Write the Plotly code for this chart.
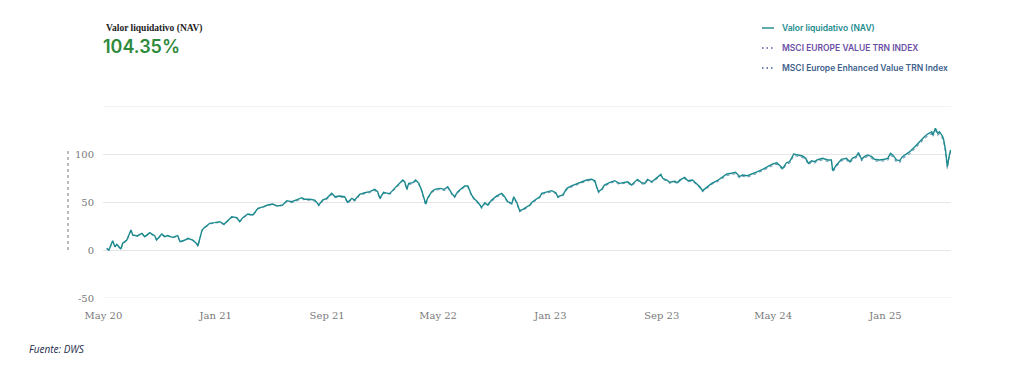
import plotly.graph_objects as go

dates = [
    "2020-05-08","2020-05-13","2020-05-21","2020-05-26","2020-05-30","2020-06-08","2020-06-12","2020-06-21","2020-06-30",
    "2020-07-04","2020-07-13","2020-07-24","2020-07-30","2020-08-10","2020-08-21","2020-08-25","2020-09-05","2020-09-12",
    "2020-09-18","2020-09-29","2020-10-10","2020-10-15","2020-10-26","2020-11-01","2020-11-12","2020-11-21","2020-11-23",
    "2020-12-02","2020-12-08","2020-12-19","2020-12-30",
    "2021-01-10","2021-01-19","2021-01-25","2021-02-05","2021-02-16","2021-02-22","2021-03-01","2021-03-12","2021-03-23",
    "2021-04-03","2021-04-14","2021-04-24","2021-05-05","2021-05-16","2021-05-27",
    "2021-06-05","2021-06-16","2021-06-27","2021-07-08","2021-07-14","2021-07-25","2021-08-05","2021-08-14","2021-08-22",
    "2021-08-31","2021-09-11","2021-09-18","2021-09-28","2021-10-09","2021-10-16","2021-10-25","2021-10-31","2021-11-11",
    "2021-11-22","2021-12-03","2021-12-14","2021-12-20","2021-12-25",
    "2022-01-02","2022-01-11","2022-01-16","2022-01-26","2022-02-02","2022-02-13","2022-02-17","2022-02-22","2022-02-26",
    "2022-03-07","2022-03-13","2022-03-20","2022-03-26","2022-03-31","2022-04-04","2022-04-08","2022-04-17","2022-04-24",
    "2022-05-05","2022-05-15","2022-05-22","2022-05-31","2022-06-06","2022-06-13","2022-06-22","2022-06-28","2022-07-05",
    "2022-07-13","2022-07-20","2022-07-26","2022-08-04","2022-08-11","2022-08-17","2022-08-26","2022-09-06","2022-09-17",
    "2022-09-23","2022-09-30","2022-10-09","2022-10-13","2022-10-20","2022-10-26","2022-11-02","2022-11-10","2022-11-17",
    "2022-11-23","2022-12-02","2022-12-09","2022-12-13","2022-12-24",
    "2023-01-04","2023-01-13","2023-01-17","2023-01-28","2023-02-06","2023-02-16","2023-02-27","2023-03-10","2023-03-21",
    "2023-04-01","2023-04-08","2023-04-12","2023-04-16","2023-04-23","2023-04-29","2023-05-10","2023-05-21","2023-06-01",
    "2023-06-12","2023-06-19","2023-06-27","2023-07-04","2023-07-10","2023-07-19","2023-07-26","2023-08-01","2023-08-10",
    "2023-08-17","2023-08-23","2023-08-30","2023-09-03","2023-09-12","2023-09-18","2023-09-29","2023-10-06","2023-10-10",
    "2023-10-21","2023-10-28","2023-11-07","2023-11-16","2023-11-23","2023-11-29","2023-12-08","2023-12-19","2023-12-30",
    "2024-01-10","2024-01-21","2024-01-31","2024-02-09","2024-02-18","2024-02-24","2024-03-06","2024-03-17","2024-03-28",
    "2024-04-08","2024-04-19","2024-04-30","2024-05-09","2024-05-15","2024-05-22","2024-05-30","2024-06-06","2024-06-15",
    "2024-06-23","2024-07-04","2024-07-11","2024-07-17","2024-07-24","2024-07-30","2024-08-06","2024-08-17","2024-08-28",
    "2024-09-05","2024-09-08","2024-09-16","2024-09-27","2024-10-08","2024-10-15","2024-10-21","2024-10-30","2024-11-03",
    "2024-11-10","2024-11-16","2024-11-23","2024-12-02","2024-12-08","2024-12-19","2024-12-30",
    "2025-01-06","2025-01-12","2025-01-17","2025-01-25","2025-02-01","2025-02-07","2025-02-16","2025-02-23","2025-03-06",
    "2025-03-16","2025-03-27","2025-04-03","2025-04-12","2025-04-14","2025-04-20","2025-04-25","2025-04-29","2025-05-06",
    "2025-05-08","2025-05-12","2025-05-14","2025-05-16","2025-05-19","2025-05-23",
]

nav = [
    1.7, 0, 9.7, 3.5, 6, 1, 7, 10.4, 20.8,
    15.6, 14.6, 17.4, 13.9, 18, 14.6, 10.4, 16.7, 13.9,
    15, 13.2, 15, 8.7, 10.4, 12.2, 10.4, 6.3, 4.2,
    20.8, 23.6, 27.8, 28.5,
    29.5, 26.7, 29.5, 34.7, 33.7, 29.5, 33.7, 37.5, 36.5,
    43.4, 45, 46.9, 47.9, 45.8, 46.9,
    51.4, 50.3, 52, 54.5, 52.8, 52.8, 52, 46.9, 52,
    53.8, 59, 55.5, 56.3, 55.5, 49.7, 53.8, 52, 58,
    59.7, 60.8, 63.2, 60.8, 53.8,
    60.1, 59, 59, 64.2, 67.7, 72.9, 71.1, 63.5, 69.4,
    70.1, 72.9, 69.4, 62.5, 55.5, 47.9, 53.8, 60.8, 63.2,
    64.2, 63.2, 65.9, 59, 55.5, 60.8, 64.2, 66.7, 66.7,
    57.3, 52.8, 50.3, 44.5, 49.3, 46.9, 52, 56.3, 59,
    55.5, 50.3, 48.6, 55.5, 49.3, 40.9, 42.4, 44.5, 46.9,
    50.3, 53.5, 55.5, 59, 60.8,
    61.8, 59.7, 55.5, 57.3, 64.2, 66.7, 68.8, 70.5, 72.9,
    73.6, 72.2, 65.9, 60.8, 63.2, 67.7, 70.1, 72.2, 69.4,
    70.1, 71.1, 67.7, 71.1, 73.6, 70.1, 69.4, 73.6, 71.1,
    73.6, 76.4, 78.8, 74.7, 72.9, 70.6, 71.6, 70.1, 72.9,
    75.7, 72.2, 72.9, 68.8, 65.9, 61.8, 65.3, 69.4, 71.9,
    75.7, 79.2, 79.9, 80.9, 76.4, 78.1, 77.4, 79.2, 81.6,
    84.1, 86.8, 89.6, 90.9, 88.5, 85.1, 90.9, 92, 100,
    99, 97.9, 95.5, 90.3, 93, 92, 94, 95.5, 93.8,
    93.8, 82.6, 88.5, 94.5, 95.5, 92, 95.5, 97.9, 101.4,
    94.5, 97.2, 99, 97.2, 94.5, 93.8, 94.5,
    95.5, 100.7, 99, 93.8, 93, 97.2, 100, 102.4, 107.6,
    112.8, 118, 120.8, 123.2, 119.8, 126.7, 121.5, 123.2, 118,
    114.6, 104.2, 90.3, 86.8, 95.5, 104.35,
]

msci_enhanced = [
    1.2, -0.5, 9.2, 3.0, 5.5, 0.5, 6.5, 9.9, 20.3,
    15.1, 14.1, 16.9, 13.4, 17.5, 14.1, 9.9, 16.2, 13.4,
    14.5, 12.7, 14.5, 8.2, 9.9, 11.7, 9.9, 5.8, 3.7,
    20.3, 23.1, 27.3, 28.0,
    29.0, 26.2, 29.0, 34.2, 33.2, 29.0, 33.2, 37.0, 36.0,
    42.9, 44.5, 46.4, 47.4, 45.3, 46.4,
    50.4, 49.3, 51, 53.5, 51.8, 51.8, 51, 45.9, 51,
    52.8, 58, 54.5, 55.3, 54.5, 48.7, 52.8, 51, 57,
    58.7, 59.8, 62.2, 59.8, 52.8,
    59.1, 58, 58, 63.2, 66.7, 71.9, 70.1, 62.5, 68.4,
    69.1, 71.9, 68.4, 61.5, 54.5, 46.9, 52.8, 59.8, 62.2,
    63.2, 62.2, 64.9, 58, 54.5, 59.8, 63.2, 65.7, 65.7,
    56.3, 51.8, 49.3, 43.5, 48.3, 45.9, 51, 55.3, 58,
    54.5, 49.3, 47.6, 54.5, 48.3, 39.9, 41.4, 43.5, 45.9,
    49.3, 52.5, 54.5, 58, 59.8,
    60.8, 58.7, 54.5, 56.3, 63.2, 65.7, 67.8, 69.5, 71.9,
    72.6, 71.2, 64.9, 59.8, 62.2, 66.7, 69.1, 71.2, 68.4,
    69.1, 70.1, 66.7, 70.1, 72.6, 69.1, 68.4, 72.6, 70.1,
    72.6, 75.4, 77.8, 73.7, 71.9, 69.6, 70.6, 69.1, 71.9,
    74.7, 71.2, 71.9, 67.8, 64.9, 60.8, 64.3, 68.4, 70.9,
    74.2, 77.7, 78.4, 79.4, 74.9, 76.6, 75.9, 77.7, 80.1,
    82.6, 85.3, 88.1, 89.4, 87.0, 83.6, 89.4, 90.5, 98.5,
    97.5, 96.4, 94.0, 88.8, 91.5, 90.5, 92.5, 94.0, 92.3,
    92.3, 81.1, 87.0, 93.0, 94.0, 90.5, 94.0, 96.4, 99.9,
    93.0, 95.7, 97.5, 95.7, 93.0, 92.3, 93.0,
    93.5, 98.7, 97, 91.8, 91, 95.2, 98, 100.4, 105.6,
    110.8, 116, 118.8, 121.2, 117.8, 124.7, 119.5, 121.2, 116,
    112.6, 102.2, 88.3, 84.8, 93.5, 102.35,
]

# MSCI EUROPE VALUE TRN INDEX: listed in the legend, no visible line in the chart
msci_value_dates = [None]
msci_value = [None]

series_names = [
    "Valor liquidativo (NAV)",
    "MSCI EUROPE VALUE TRN INDEX",
    "MSCI Europe Enhanced Value TRN Index",
]

assert len(dates) == len(nav) == len(msci_enhanced), (len(dates), len(nav), len(msci_enhanced))

y_range = [-50, 150]
y_tickvals = [-50, 0, 50, 100, 150]
y_ticktext = ["-50", "0", "50", "100", ""]
x_range = ["2020-04-30", "2025-05-24"]

NAV_COLOR = "#1b8a8e"
VALUE_COLOR = "#6b4fa6"
ENH_TEXT = "#3e5f8c"
ENH_LINE = "#6f9ab5"
GRID = "#e6e6e6"

fig = go.Figure()
fig.add_trace(go.Scatter(
    x=msci_value_dates, y=msci_value, mode="lines", name=series_names[1], showlegend=False,
    line=dict(color=VALUE_COLOR, width=1.3, dash="dot"),
))
fig.add_trace(go.Scatter(
    x=dates, y=msci_enhanced, mode="lines", name=series_names[2], showlegend=False,
    line=dict(color=ENH_LINE, width=1.1, dash="dot"),
))
fig.add_trace(go.Scatter(
    x=dates, y=nav, mode="lines", name=series_names[0], showlegend=False,
    line=dict(color=NAV_COLOR, width=1.4),
))

# page body has an 8px margin: figure origin sits at (8, 8) in the window
OFF = 8
FW, FH = 1013 - OFF, 366 - OFF
L, T, PW, PH = 103 - OFF, 106 - OFF, 848, 192


def px(xp):
    return (xp - OFF - L) / PW


def py(yp):
    return (T + PH - (yp - OFF)) / PH


legend_items = [
    (series_names[0], NAV_COLOR, NAV_COLOR, "solid", 28),
    (series_names[1], VALUE_COLOR, VALUE_COLOR, "1.5px,3px", 48),
    (series_names[2], ENH_TEXT, ENH_TEXT, "1.5px,3px", 68),
]
shapes = []
annotations = []
for name, tcol, lcol, dash, yrow in legend_items:
    shapes.append(dict(type="line", xref="paper", yref="paper",
                       x0=px(762), x1=px(774), y0=py(yrow), y1=py(yrow),
                       line=dict(color=lcol, width=1.4 if dash == "solid" else 1.6, dash=dash)))
    annotations.append(dict(text=name, xref="paper", yref="paper", x=px(780), y=py(yrow),
                            xanchor="left", yanchor="middle", showarrow=False,
                            font=dict(family="Inter", size=8.5, weight=600, color=tcol)))

annotations += [
    dict(text="<b>Valor liquidativo (NAV)</b>", xref="paper", yref="paper",
         x=px(104), y=py(28), xanchor="left", yanchor="middle", showarrow=False,
         font=dict(family="Liberation Serif", size=9.5, color="#222222")),
    dict(text="104.35%", xref="paper", yref="paper",
         x=px(101), y=py(47), xanchor="left", yanchor="middle", showarrow=False,
         font=dict(family="Inter", size=18, weight=600, color="#2e8a3c")),
    dict(text="Fuente: DWS", xref="paper", yref="paper",
         x=px(27), y=py(349), xanchor="left", yanchor="middle", showarrow=False,
         font=dict(family="Open Sans", size=10, style="italic", color="#1c2b4a")),
]
# dotted marker left of the y axis
shapes.append(dict(type="line", xref="paper", yref="paper", x0=px(68), x1=px(68), y0=py(250), y1=py(148),
                   line=dict(color="#7a7a7a", width=1, dash="dot")))
# gridlines that fall on the plot edges (plotly clips them)
for yv in (y_range[0], y_range[1]):
    shapes.append(dict(type="line", xref="paper", yref="y", x0=0, x1=1, y0=yv, y1=yv,
                       layer="below", line=dict(color=GRID, width=1)))

fig.update_layout(
    width=FW, height=FH,
    margin=dict(l=L, r=FW - L - PW, t=T, b=FH - T - PH, autoexpand=False),
    paper_bgcolor="white", plot_bgcolor="white",
    showlegend=False,
    xaxis=dict(
        type="date",
        range=x_range,
        tick0="2020-05-01", dtick="M8", tickformat="%b %y",
        showgrid=False, zeroline=False, showline=False,
        ticks="outside", ticklen=8, tickcolor="rgba(0,0,0,0)",
        tickfont=dict(family="DejaVu Serif", size=10, color="#7a7a7a"),
    ),
    yaxis=dict(
        range=y_range,
        tickvals=y_tickvals, ticktext=y_ticktext,
        showgrid=True, gridcolor=GRID, gridwidth=1,
        zeroline=False, showline=False,
        ticks="outside", ticklen=6, tickcolor="rgba(0,0,0,0)",
        tickfont=dict(family="DejaVu Serif", size=10, color="#7a7a7a"),
    ),
    annotations=annotations,
    shapes=shapes,
)

fig.write_html("out.html")
